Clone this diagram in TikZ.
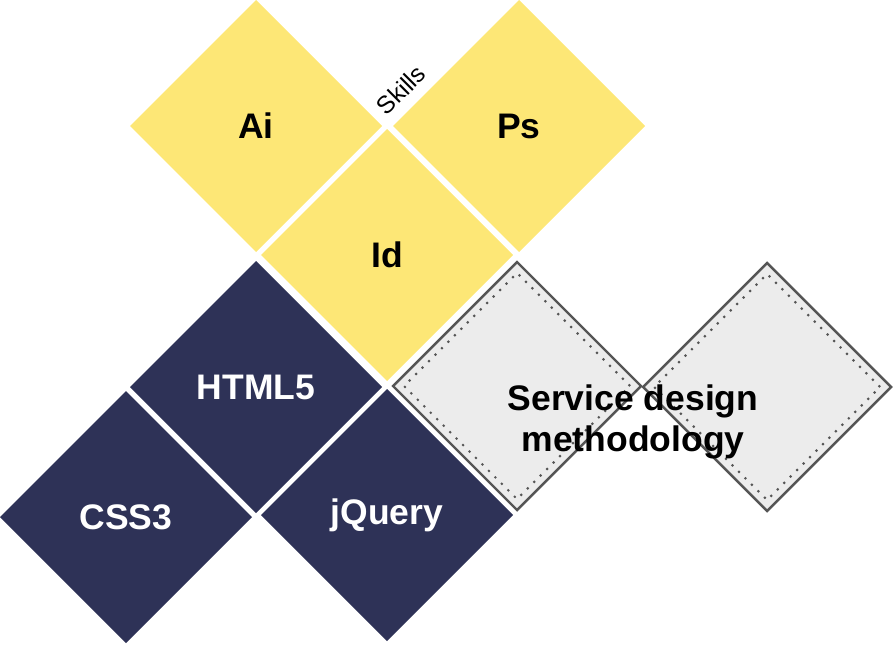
\documentclass[tikz,border=0pt]{standalone}
\usepackage{fontspec}
\setmainfont{Liberation Sans}
\usetikzlibrary{shapes.geometric}
\definecolor{skillyellow}{RGB}{253,231,118}
\definecolor{webnavy}{RGB}{46,50,87}
\definecolor{methodgray}{RGB}{236,236,236}
\definecolor{methodline}{RGB}{85,85,85}
\begin{document}
\begin{tikzpicture}[x=1cm, y=-1cm,
  tile/.style={diamond, aspect=1, inner sep=0pt, outer sep=0pt, minimum width=2.52cm, minimum height=2.52cm,
    font=\fontsize{10.1}{12}\selectfont\bfseries},
  design/.style={tile, fill=skillyellow, text=black},
  web/.style={tile, fill=webnavy, text=white},
  method/.style={tile, minimum width=2.48cm, minimum height=2.48cm, fill=methodgray, draw=methodline, line width=0.7pt},
  methodinner/.style={tile, minimum width=2.26cm, minimum height=2.26cm, draw=methodline, dotted, line width=0.6pt}]
\useasboundingbox (0,0) rectangle (8.93,6.44);
% design tools
\node[design] (ai) at (2.56,1.26) {Ai};
\node[design] (ps) at (5.19,1.26) {Ps};
\node[design] (id) at (3.87,2.55) {Id};
\node[font=\fontsize{7}{8}\selectfont, rotate=45, inner sep=0pt] (skills) at (4.01,0.90) {Skills};
% web
\node[web] (html) at (2.56,3.87) {HTML5};
\node[web] (css) at (1.26,5.17) {CSS3};
\node[web] (jquery) at (3.87,5.15) {jQuery};
% methodology
\node[method] (sd1) at (5.17,3.86) {};
\node[methodinner] (sd1in) at (sd1.center) {};
\node[method] (sd2) at (7.67,3.87) {};
\node[methodinner] (sd2in) at (sd2.center) {};
\node[align=center, font=\fontsize{10.1}{11.6}\selectfont\bfseries] (sdtext) at (6.33,4.22) {Service design\\methodology};
\end{tikzpicture}
\end{document}
